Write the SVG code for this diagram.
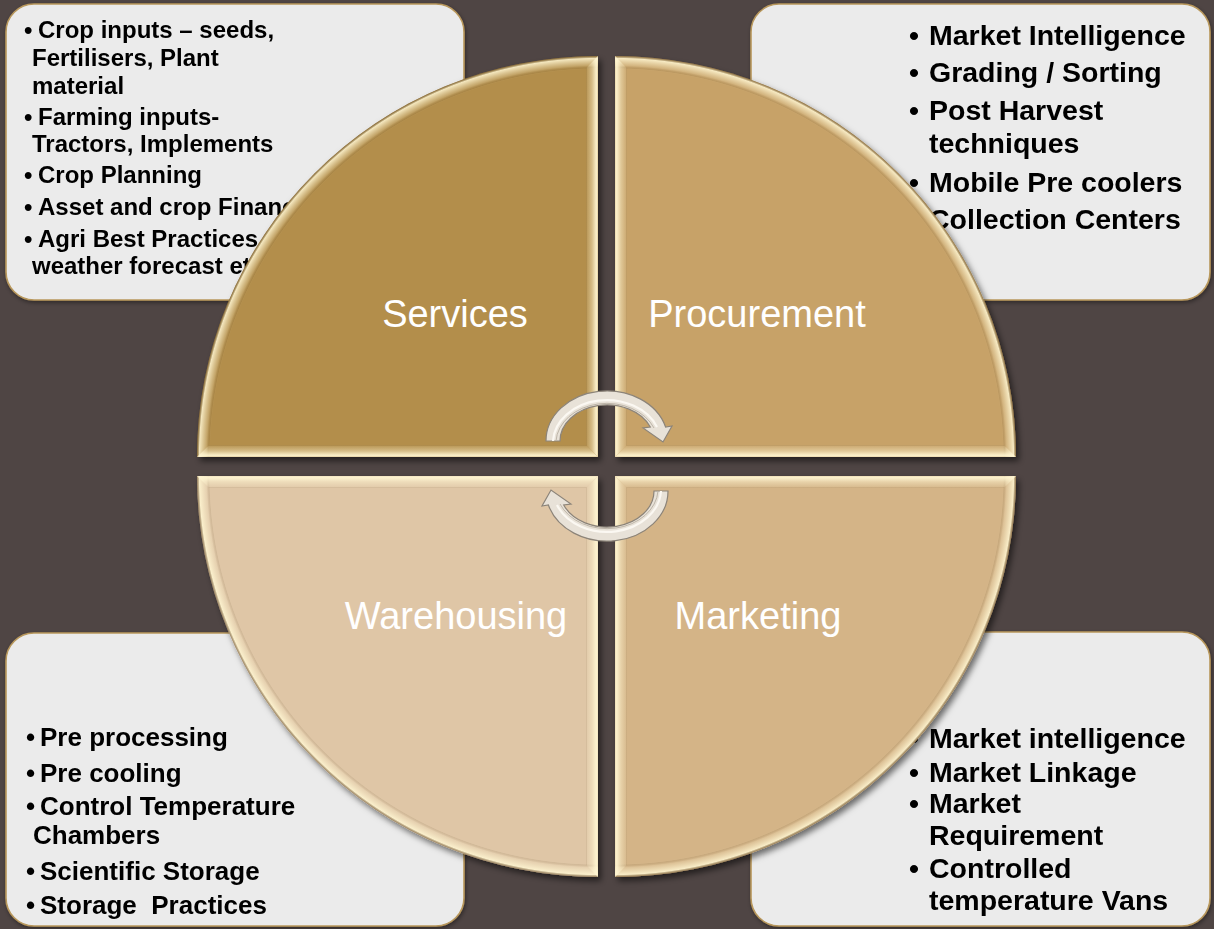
<svg xmlns="http://www.w3.org/2000/svg" width="1214" height="929" viewBox="0 0 1214 929">
<defs>
<style>
.box{fill:#ebebeb;stroke:#b9985c;stroke-width:1.6}
.bt{font-family:"Liberation Sans",Arial,sans-serif;font-weight:bold;fill:#000}
.s24{font-size:24px}.s26{font-size:26px}.s28{font-size:28.5px}
.lbl{font-family:"Liberation Sans",Arial,sans-serif;font-size:38px;fill:#fff;text-anchor:middle}
.arrow{fill:#e8e2d8;stroke:#8c8479;stroke-width:1.2}
.groove{fill:none;stroke:#fbf8f2;stroke-width:2.2}
.groove2{fill:none;stroke:#bdb5a8;stroke-width:1}
</style>
<filter id="sh" x="-10%" y="-10%" width="120%" height="120%">
<feDropShadow dx="3" dy="4" stdDeviation="3" flood-color="#000" flood-opacity="0.55"/>
</filter>
<filter id="bsh" x="-5%" y="-5%" width="110%" height="110%">
<feDropShadow dx="1" dy="2" stdDeviation="2" flood-color="#000" flood-opacity="0.4"/>
</filter>
<linearGradient id="gR" x1="0" y1="0" x2="1" y2="0">
<stop offset="0" stop-color="#5a4520" stop-opacity="0.12"/>
<stop offset="0.12" stop-color="#fff6d2" stop-opacity="0.15"/>
<stop offset="0.5" stop-color="#fff6d2" stop-opacity="0.45"/>
<stop offset="0.8" stop-color="#fff6d2" stop-opacity="0.85"/>
<stop offset="0.93" stop-color="#fff6d2" stop-opacity="0.95"/>
<stop offset="1" stop-color="#fff6d2" stop-opacity="0.4"/>
</linearGradient>
<linearGradient id="gL" x1="1" y1="0" x2="0" y2="0" href="#gR"/>
<linearGradient id="gD" x1="0" y1="0" x2="0" y2="1" href="#gR"/>
<linearGradient id="gU" x1="0" y1="1" x2="0" y2="0" href="#gR"/>
<radialGradient id="rBase" gradientUnits="userSpaceOnUse" cx="0" cy="0" r="401">
<stop offset="0" stop-color="#fff6d2" stop-opacity="0"/>
<stop offset="0.967" stop-color="#fff6d2" stop-opacity="0"/>
<stop offset="0.970" stop-color="#5a4520" stop-opacity="0.1"/>
<stop offset="0.976" stop-color="#fff6d2" stop-opacity="0.2"/>
<stop offset="0.986" stop-color="#fff6d2" stop-opacity="0.55"/>
<stop offset="0.994" stop-color="#fff6d2" stop-opacity="0.85"/>
<stop offset="1" stop-color="#5a4520" stop-opacity="0.5"/>
</radialGradient>
<radialGradient id="rS" gradientUnits="userSpaceOnUse" cx="598" cy="457" r="401" href="#rBase"/>
<radialGradient id="rP" gradientUnits="userSpaceOnUse" cx="615" cy="457" r="401" href="#rBase"/>
<radialGradient id="rW" gradientUnits="userSpaceOnUse" cx="598" cy="476" r="401" href="#rBase"/>
<radialGradient id="rM" gradientUnits="userSpaceOnUse" cx="615" cy="476" r="401" href="#rBase"/>
</defs>

<rect width="1214" height="929" fill="#4f4544"/>

<g id="box-services-details" filter="url(#bsh)">
<rect class="box" x="6" y="4" width="458" height="296" rx="28"/>
<g class="bt s24">
<text x="24" y="38">•</text><text x="38" y="38">Crop inputs – seeds,</text>
<text x="32" y="66">Fertilisers, Plant</text>
<text x="32" y="94">material</text>
<text x="24" y="125">•</text><text x="38" y="125">Farming inputs-</text>
<text x="32" y="152">Tractors, Implements</text>
<text x="24" y="183">•</text><text x="38" y="183">Crop Planning</text>
<text x="24" y="215">•</text><text x="38" y="215">Asset and crop Finance</text>
<text x="24" y="247">•</text><text x="38" y="247">Agri Best Practices,</text>
<text x="32" y="274">weather forecast etc.</text>
</g>
</g>

<g id="box-procurement-details" filter="url(#bsh)">
<rect class="box" x="751" y="4" width="459" height="296" rx="28"/>
<g class="bt s28">
<text x="909" y="45">•</text><text x="929" y="45">Market Intelligence</text>
<text x="909" y="82">•</text><text x="929" y="82">Grading / Sorting</text>
<text x="909" y="120">•</text><text x="929" y="120">Post Harvest</text>
<text x="929" y="153">techniques</text>
<text x="909" y="192">•</text><text x="929" y="192">Mobile Pre coolers</text>
<text x="909" y="229">•</text><text x="929" y="229">Collection Centers</text>
</g>
</g>

<g id="box-warehousing-details" filter="url(#bsh)">
<rect class="box" x="6" y="633" width="458" height="293" rx="28"/>
<g class="bt s26">
<text x="26" y="746">•</text><text x="40" y="746">Pre processing</text>
<text x="26" y="782">•</text><text x="40" y="782">Pre cooling</text>
<text x="26" y="815">•</text><text x="40" y="815">Control Temperature</text>
<text x="33" y="844">Chambers</text>
<text x="26" y="880">•</text><text x="40" y="880">Scientific Storage</text>
<text x="26" y="914">•</text><text x="40" y="914" style="white-space:pre">Storage  Practices</text>
</g>
</g>

<g id="box-marketing-details" filter="url(#bsh)">
<rect class="box" x="751" y="632" width="459" height="294" rx="28"/>
<g class="bt s28">
<text x="909" y="748">•</text><text x="929" y="748">Market intelligence</text>
<text x="909" y="782">•</text><text x="929" y="782">Market Linkage</text>
<text x="909" y="813">•</text><text x="929" y="813">Market</text>
<text x="929" y="845">Requirement</text>
<text x="909" y="878">•</text><text x="929" y="878">Controlled</text>
<text x="929" y="910">temperature Vans</text>
</g>
</g>

<g id="node-services">
<path d="M598,457 L197,457 A401,401 0 0 1 598,56 Z" fill="#b38e4c" filter="url(#sh)"/>
<path d="M598,457 L197,457 A401,401 0 0 1 598,56 Z" fill="url(#rS)"/>
<polygon points="598,56 598,457 586,445 586,68.2" fill="url(#gR)"/>
<polygon points="197,457 598,457 586,445 209.2,445" fill="url(#gD)"/>
<text class="lbl" x="455" y="327">Services</text>
</g>

<g id="node-procurement">
<path d="M615,457 L615,56 A401,401 0 0 1 1016,457 Z" fill="#c7a267" filter="url(#sh)"/>
<path d="M615,457 L615,56 A401,401 0 0 1 1016,457 Z" fill="url(#rP)"/>
<polygon points="615,56 615,457 627,445 627,68.2" fill="url(#gL)"/>
<polygon points="1016,457 615,457 627,445 1003.8,445" fill="url(#gD)"/>
<text class="lbl" x="757" y="327">Procurement</text>
</g>

<g id="node-warehousing">
<path d="M598,476 L598,877 A401,401 0 0 1 197,476 Z" fill="#dfc6a6" filter="url(#sh)"/>
<path d="M598,476 L598,877 A401,401 0 0 1 197,476 Z" fill="url(#rW)"/>
<polygon points="197,476 598,476 586,488 209.2,488" fill="url(#gU)"/>
<polygon points="598,877 598,476 586,488 586,864.8" fill="url(#gR)"/>
<text class="lbl" x="456" y="629">Warehousing</text>
</g>

<g id="node-marketing">
<path d="M615,476 L1016,476 A401,401 0 0 1 615,877 Z" fill="#d4b487" filter="url(#sh)"/>
<path d="M615,476 L1016,476 A401,401 0 0 1 615,877 Z" fill="url(#rM)"/>
<polygon points="615,476 1016,476 1003.8,488 627,488" fill="url(#gU)"/>
<polygon points="615,476 615,877 627,864.8 627,488" fill="url(#gL)"/>
<text class="lbl" x="758" y="629">Marketing</text>
</g>

<g id="connectors">
<g id="arrow-top">
<path class="arrow" d="M546,441 A61,50 0 0 1 665.6,427 L672,426 L663,442 L643,428 L650.3,427 A47,36 0 0 0 560,441 Z"/>
<path class="groove" d="M553,441 A54,43 0 0 1 657,427"/>
<path class="groove2" d="M556,441 A51,40 0 0 1 654,428"/>
</g>
<g id="arrow-bottom" transform="rotate(180 607 466)">
<path class="arrow" d="M546,441 A61,50 0 0 1 665.6,427 L672,426 L663,442 L643,428 L650.3,427 A47,36 0 0 0 560,441 Z"/>
<path class="groove" d="M553,441 A54,43 0 0 1 657,427"/>
<path class="groove2" d="M556,441 A51,40 0 0 1 654,428"/>
</g>
</g>
</svg>
